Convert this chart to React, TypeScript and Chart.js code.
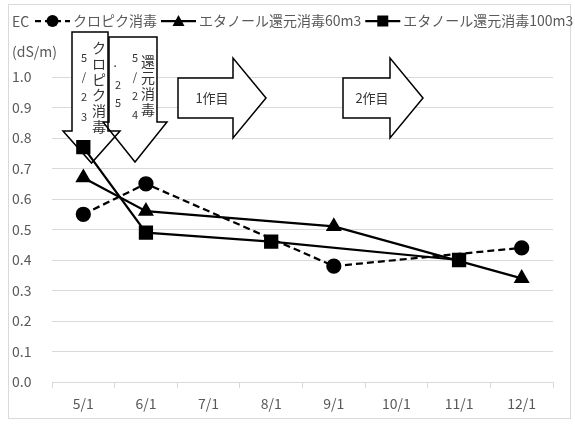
import React, { useEffect, useRef } from "react";
import { Chart, registerables } from "chart.js";

Chart.register(...registerables);

// Sampling dates (month/1) and EC readings, dS/m
const months = ["5/1", "6/1", "7/1", "8/1", "9/1", "10/1", "11/1", "12/1"];
const chloropicrin = [0.55, 0.65, null, null, 0.38, null, null, 0.44];
const ethanol60 = [0.67, 0.56, null, null, 0.51, null, null, 0.34];
const ethanol100 = [0.77, 0.49, null, 0.46, null, null, 0.4, null];
const seriesNames = ["クロピク消毒", "エタノール還元消毒60m3", "エタノール還元消毒100m3"];
const yMin = 0;
const yMax = 1;
const yStep = 0.1;

const JP = '"Noto Sans CJK JP", "Noto Sans", sans-serif';
const GREY = "#595959";
const GRID = "#d9d9d9";

type Pt = [number, number];

function polygon(ctx: CanvasRenderingContext2D, pts: Pt[]) {
  ctx.beginPath();
  ctx.moveTo(pts[0][0], pts[0][1]);
  for (let i = 1; i < pts.length; i++) ctx.lineTo(pts[i][0], pts[i][1]);
  ctx.closePath();
}

function downArrow(l: number, r: number, top: number, base: number, hl: number, hr: number, tipY: number): Pt[] {
  const tipX = (hl + hr) / 2;
  return [
    [l, top], [r, top], [r, base], [hr, base], [tipX, tipY], [hl, base], [l, base],
  ];
}

function rightArrow(left: number, top: number, bottom: number, headX: number, headTop: number, headBottom: number, tipX: number): Pt[] {
  const tipY = (headTop + headBottom) / 2;
  return [
    [left, top], [headX, top], [headX, headTop], [tipX, tipY], [headX, headBottom], [headX, bottom], [left, bottom],
  ];
}

function marker(ctx: CanvasRenderingContext2D, kind: string, x: number, y: number) {
  ctx.fillStyle = "#000";
  ctx.beginPath();
  if (kind === "circle") {
    ctx.arc(x, y, 6, 0, Math.PI * 2);
  } else if (kind === "triangle") {
    ctx.moveTo(x, y - 6);
    ctx.lineTo(x + 6, y + 5);
    ctx.lineTo(x - 6, y + 5);
    ctx.closePath();
  } else {
    ctx.rect(x - 5.5, y - 5.5, 11, 11);
  }
  ctx.fill();
}

function verticalText(ctx: CanvasRenderingContext2D, chars: string[], x: number, ys: number[], font: string) {
  ctx.font = font;
  ctx.textAlign = "center";
  ctx.textBaseline = "middle";
  chars.forEach((c, i) => ctx.fillText(c, x, ys[i]));
}

const decorations = {
  id: "decorations",
  beforeDatasetsDraw(chart: Chart) {
    const ctx = chart.ctx;
    ctx.save();
    const shapes: Pt[][] = [
      downArrow(72, 108, 32, 131, 63, 120, 163),
      downArrow(109, 157, 37, 122, 103, 167, 162),
      rightArrow(178, 78, 118, 233, 58, 138, 266),
      rightArrow(343, 78, 118, 390, 58, 138, 423),
    ];
    ctx.fillStyle = "#fff";
    shapes.forEach((s) => { polygon(ctx, s); ctx.fill(); });
    ctx.strokeStyle = "#000";
    ctx.lineWidth = 1.5;
    ctx.lineJoin = "miter";
    shapes.forEach((s) => { polygon(ctx, s); ctx.stroke(); });

    ctx.fillStyle = "#333";
    const small = `11px ${JP}`;
    const big = `14px ${JP}`;
    verticalText(ctx, ["5", "/", "2", "3"], 84, [58, 77, 97, 117], small);
    verticalText(ctx, ["ク", "ロ", "ピ", "ク", "消", "毒"], 99, [48, 64, 80, 95, 111, 127], big);
    verticalText(ctx, ["．", "2", "5"], 118, [63, 85, 103], small);
    verticalText(ctx, ["5", "/", "2", "4"], 135, [58, 77, 96, 115], small);
    verticalText(ctx, ["還", "元", "消", "毒"], 148, [62, 78, 94, 110], big);

    ctx.font = `13px ${JP}`;
    ctx.fillText("1作目", 212, 98);
    ctx.fillText("2作目", 372, 98);
    ctx.restore();
  },
  afterDraw(chart: Chart) {
    const ctx = chart.ctx;
    ctx.save();
    // outer frame
    ctx.strokeStyle = GRID;
    ctx.lineWidth = 1;
    ctx.strokeRect(8.5, 4.5, 562, 414);

    // axis unit
    ctx.fillStyle = GREY;
    ctx.font = `14px ${JP}`;
    ctx.textAlign = "left";
    ctx.textBaseline = "middle";
    ctx.fillText("EC", 12, 22);
    ctx.fillText("(dS/m)", 12, 52);

    // legend
    const kinds = ["circle", "triangle", "rect"];
    let x = 35;
    const y = 21;
    seriesNames.forEach((name, i) => {
      ctx.strokeStyle = "#000";
      ctx.lineWidth = 2.25;
      ctx.setLineDash(i === 0 ? [6, 4] : []);
      ctx.beginPath();
      ctx.moveTo(x, y);
      ctx.lineTo(x + 35, y);
      ctx.stroke();
      ctx.setLineDash([]);
      marker(ctx, kinds[i], x + 17.5, y);
      x += 38;
      ctx.fillStyle = GREY;
      ctx.font = `14px ${JP}`;
      ctx.fillText(name, x, y);
      x += ctx.measureText(name).width + 4;
    });
    ctx.restore();
  },
};

export default function App() {
  const ref = useRef<HTMLCanvasElement | null>(null);

  useEffect(() => {
    document.body.style.margin = "0";
    if (!ref.current) return;
    const line = {
      borderColor: "#000",
      backgroundColor: "#000",
      pointBackgroundColor: "#000",
      pointBorderColor: "#000",
      borderWidth: 2.25,
      spanGaps: true,
      tension: 0,
    };
    const chart = new Chart(ref.current, {
      type: "line",
      data: {
        labels: months,
        datasets: [
          { ...line, label: seriesNames[0], data: chloropicrin, borderDash: [7, 4], pointStyle: "circle", pointRadius: 6.5 },
          { ...line, label: seriesNames[1], data: ethanol60, pointStyle: "triangle", pointRadius: 7 },
          { ...line, label: seriesNames[2], data: ethanol100, pointStyle: "rect", pointRadius: 8.5 },
        ],
      },
      options: {
        animation: false,
        responsive: false,
        devicePixelRatio: 1,
        layout: { padding: { left: 12, top: 77, right: 22, bottom: 0 } },
        plugins: { legend: { display: false }, tooltip: { enabled: false } },
        scales: {
          x: {
            offset: true,
            grid: { display: true, drawOnChartArea: false, offset: true, color: GRID, tickLength: 6 },
            border: { color: GRID, width: 1 },
            ticks: { color: GREY, font: { family: JP, size: 14 }, padding: 7, maxRotation: 0, autoSkip: false },
            afterFit: (s: any) => { s.height = 42; },
          },
          y: {
            min: yMin,
            max: yMax,
            ticks: {
              stepSize: yStep,
              color: GREY,
              font: { family: JP, size: 14 },
              crossAlign: "far",
              padding: 0,
              callback: (v: any) => Number(v).toFixed(1),
            },
            grid: { color: GRID, drawTicks: false },
            border: { display: false },
            afterFit: (s: any) => { s.width = 40; },
          },
        },
      },
      plugins: [decorations],
    });
    return () => chart.destroy();
  }, []);

  return <canvas ref={ref} width={575} height={424} style={{ display: "block" }} />;
}
